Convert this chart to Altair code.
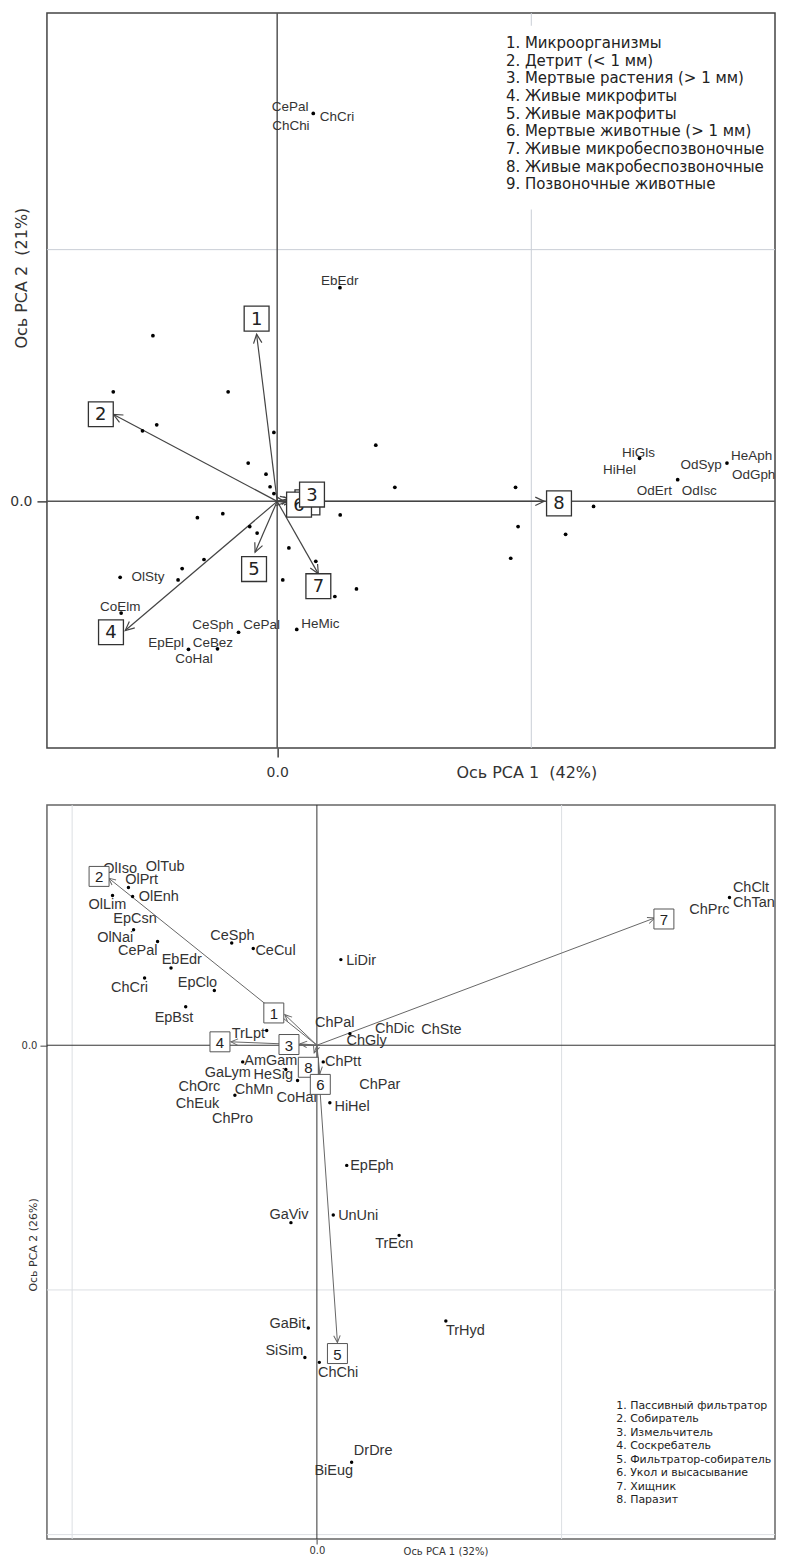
import math
import altair as alt
import pandas as pd

# ================= TOP PANEL (food resources, PCA 42% / 21%) =================
TOP_POINT_X = [0.142, 0.247, -0.489, -0.645, -0.193, -0.474, -0.530, -0.013, -0.114, -0.044,
               -0.028, -0.013, 0.388, 0.463, -0.314, -0.214, 0.248, -0.108, -0.079, 0.046,
               -0.288, -0.374, 0.152, -0.390, -0.618, 0.022, 0.312, 0.227, -0.614, -0.152,
               0.077, -0.349, -0.235, 0.938, 0.948, 0.919, 1.135, 1.245, 1.426, 1.576,
               1.770]
TOP_POINT_Y = [1.541, 0.849, 0.658, 0.435, 0.435, 0.304, 0.280, 0.274, 0.152, 0.108,
               0.058, 0.031, 0.223, 0.056, -0.065, -0.049, -0.054, -0.100, -0.126, -0.185,
               -0.231, -0.267, -0.238, -0.312, -0.302, -0.312, -0.348, -0.378, -0.444, -0.520,
               -0.509, -0.588, -0.586, 0.056, -0.100, -0.226, -0.131, -0.020, 0.171, 0.086,
               0.152]
TOP_LABEL_TEXT = ["CePal", "ChChi", "ChCri", "EbEdr", "OlSty", "CoElm", "CeSph", "CePal",
                  "HeMic", "EpEpl", "CeBez", "CoHal", "HiGls", "HiHel", "OdSyp", "OdErt",
                  "OdIsc", "HeAph", "OdGph"]
TOP_LABEL_X = [0.051, 0.054, 0.235, 0.246, -0.508, -0.618, -0.253, -0.061,
               0.170, -0.437, -0.253, -0.327, 1.422, 1.347, 1.668, 1.484,
               1.661, 1.867, 1.875]
TOP_LABEL_Y = [1.567, 1.493, 1.528, 0.877, -0.302, -0.421, -0.491, -0.491,
               -0.488, -0.563, -0.563, -0.626, 0.194, 0.124, 0.144, 0.040,
               0.040, 0.181, 0.104]
TOP_VEC_ID = ["1", "2", "3", "4", "5", "6", "7", "8", "9"]
TOP_VEC_X = [-0.081, -0.644, 0.049, -0.598, -0.087, 0.033, 0.162, 1.051, 0.061]
TOP_VEC_Y = [0.664, 0.345, 0.012, -0.513, -0.202, -0.004, -0.288, 0.0, 0.004]
TOP_BOX_X = [-0.081, -0.694, 0.137, -0.654, -0.091, 0.086, 0.162, 1.109, 0.119]
TOP_BOX_Y = [0.726, 0.346, 0.027, -0.520, -0.269, -0.013, -0.337, -0.008, -0.004]
TOP_LEGEND = ["1. Микроорганизмы", "2. Детрит (< 1 мм)", "3. Мертвые растения (> 1 мм)",
              "4. Живые микрофиты", "5. Живые макрофиты", "6. Мертвые животные (> 1 мм)",
              "7. Живые микробеспозвоночные", "8. Живые макробеспозвоночные",
              "9. Позвоночные животные"]
TOP_GRID_X = [1.0]
TOP_GRID_Y = [1.0]

# ================= BOTTOM PANEL (feeding groups, PCA 32% / 26%) =================
BOT_POINT_X = [-0.770, -0.753, -0.835, -0.749, -0.651, -0.348, -0.260, 0.098, -0.596, -0.704,
               -0.419, -0.536, -0.205, 0.135, -0.303, 0.026, -0.127, -0.079, -0.335, 0.053,
               1.686, 0.122, -0.106, 0.067, 0.336, -0.035, -0.049, 0.010, 0.142, 0.527]
BOT_POINT_Y = [0.645, 0.608, 0.612, 0.472, 0.424, 0.418, 0.395, 0.350, 0.316, 0.275,
               0.224, 0.157, 0.060, 0.047, -0.068, -0.068, -0.099, -0.144, -0.204, -0.235,
               0.604, -0.491, -0.725, -0.694, -0.777, -1.156, -1.276, -1.296, -1.704, -1.127]
BOT_LABEL_TEXT = ["OlIso", "OlTub", "OlPrt", "OlEnh", "OlLim", "EpCsn", "OlNai", "CePal",
                  "CeSph", "CeCul", "LiDir", "EbEdr", "ChCri", "EpClo", "EpBst", "TrLpt",
                  "ChPal", "ChDic", "ChSte", "ChGly", "AmGam", "ChPtt", "GaLym", "HeSig",
                  "ChOrc", "ChMn", "CoHal", "ChEuk", "ChPro", "ChPar", "HiHel", "ChClt",
                  "ChTan", "ChPrc", "EpEph", "GaViv", "UnUni", "TrEcn", "GaBit", "SiSim",
                  "ChChi", "DrDre", "BiEug", "TrHyd"]
BOT_LABEL_X = [-0.804, -0.620, -0.716, -0.646, -0.856, -0.743, -0.824, -0.732,
               -0.345, -0.169, 0.181, -0.552, -0.766, -0.488, -0.584, -0.280,
               0.073, 0.318, 0.509, 0.203, -0.188, 0.107, -0.364, -0.178,
               -0.480, -0.257, -0.083, -0.488, -0.345, 0.257, 0.144, 1.774,
               1.786, 1.604, 0.225, -0.114, 0.169, 0.316, -0.120, -0.133,
               0.087, 0.230, 0.069, 0.607]
BOT_LABEL_Y = [0.720, 0.727, 0.676, 0.606, 0.574, 0.517, 0.438, 0.387,
               0.448, 0.384, 0.346, 0.350, 0.234, 0.255, 0.112, 0.047,
               0.091, 0.067, 0.061, 0.016, -0.065, -0.069, -0.113, -0.120,
               -0.171, -0.181, -0.215, -0.242, -0.300, -0.164, -0.253, 0.642,
               0.581, 0.551, -0.495, -0.694, -0.699, -0.813, -1.140, -1.251,
               -1.341, -1.657, -1.739, -1.167]
BOT_VEC_ID = ["1", "2", "3", "4", "5", "6", "7", "8"]
BOT_VEC_X = [-0.131, -0.851, -0.069, -0.351, 0.084, 0.012, 1.380, -0.011]
BOT_VEC_Y = [0.125, 0.683, 0.006, 0.014, -1.215, -0.117, 0.520, -0.031]
BOT_BOX_X = [-0.176, -0.890, -0.114, -0.396, 0.084, 0.014, 1.418, -0.035]
BOT_BOX_Y = [0.132, 0.690, 0.003, 0.014, -1.260, -0.160, 0.516, -0.090]
BOT_LEGEND = ["1. Пассивный фильтратор", "2. Собиратель", "3. Измельчитель",
              "4. Соскребатель", "5. Фильтратор-собиратель", "6. Укол и высасывание",
              "7. Хищник", "8. Паразит"]
BOT_GRID_X = [-1.0, 1.0]
BOT_GRID_Y = [-1.0, -2.0]

ARROW_PATH = "M -0.42 0.9 L 0 0 L 0.42 0.9"


def make_panel(c):
    w, h = c["width"], c["height"]
    xd, yd = c["xdom"], c["ydom"]
    sx = w / (xd[1] - xd[0])
    sy = h / (yd[1] - yd[0])
    xs = alt.Scale(domain=xd, nice=False, zero=False)
    ys = alt.Scale(domain=yd, nice=False, zero=False)
    xaxis = alt.Axis(values=[0], format=".1f", grid=False, domain=False,
                     tickSize=c["xtick"], tickColor=c["axcol"], tickWidth=c["tickw"],
                     labelFont="DejaVu Sans", labelFontSize=c["xlabsize"],
                     labelColor="#333", labelPadding=c["xlabpad"],
                     title=c["xtitle"], titleFont="DejaVu Sans",
                     titleFontSize=c["xtitlesize"], titleFontWeight="normal",
                     titleColor="#333", titleX=c["xtitlex"], titleY=c["xtitley"],
                     titleAlign="center", titleBaseline="middle")
    yaxis = alt.Axis(values=[0], format=".1f", grid=False, domain=False,
                     tickSize=c["ytick"], tickColor=c["axcol"], tickWidth=c["tickw"],
                     labelFont="DejaVu Sans", labelFontSize=c["ylabsize"],
                     labelColor="#333", labelPadding=c["ylabpad"],
                     title=c["ytitle"], titleFont="DejaVu Sans",
                     titleFontSize=c["ytitlesize"], titleFontWeight="normal",
                     titleColor="#333", titleX=c["ytitlex"], titleY=c["ytitley"],
                     titleAlign="center", titleBaseline="middle", titleAngle=270)

    def X(f):
        return alt.X(f, type="quantitative", scale=xs, axis=xaxis)

    def Y(f):
        return alt.Y(f, type="quantitative", scale=ys, axis=yaxis)

    pts = pd.DataFrame({"px": c["pt_x"], "py": c["pt_y"]})
    labs = pd.DataFrame({"t": c["lab_t"], "lx": c["lab_x"], "ly": c["lab_y"]})
    vec = pd.DataFrame({"id": c["vid"], "tx": c["vx"], "ty": c["vy"],
                        "bx": c["bx"], "by": c["by"]})
    vec["x0"] = 0.0
    vec["y0"] = 0.0
    vec["ang"] = [math.degrees(math.atan2(a * sx, b * sy)) % 360.0
                  for a, b in zip(vec["tx"], vec["ty"])]
    n = len(c["legend"])
    leg = pd.DataFrame({"t": c["legend"],
                        "gx": [c["leg_x"]] * n,
                        "gy": [c["leg_y0"] - i * c["leg_step"] for i in range(n)]})

    layers = [
        alt.Chart(pd.DataFrame({"g": c["grid_x"]})).mark_rule(
            color=c["gridcol"], strokeWidth=1).encode(x=X("g")),
        alt.Chart(pd.DataFrame({"g": c["grid_y"]})).mark_rule(
            color=c["gridcol"], strokeWidth=1).encode(y=Y("g")),
    ]
    if c.get("legbox"):
        lb = c["legbox"]
        layers.append(alt.Chart(pd.DataFrame({"a": [lb[0]], "b": [lb[1]], "c": [lb[2]], "d": [lb[3]]}))
                      .mark_rect(fill="white").encode(x=X("a"), x2="b", y=Y("c"), y2="d"))
    layers += [
        alt.Chart(pd.DataFrame({"z": [0.0]})).mark_rule(
            color=c["zerocol"], strokeWidth=c["zerow"]).encode(x=X("z")),
        alt.Chart(pd.DataFrame({"z": [0.0]})).mark_rule(
            color=c["zerocol"], strokeWidth=c["zerow"]).encode(y=Y("z")),
        alt.Chart(vec).mark_rule(color=c["arrcol"], strokeWidth=c["arrw"]).encode(
            x=X("x0"), y=Y("y0"), x2="tx", y2="ty"),
        alt.Chart(vec).mark_point(shape=ARROW_PATH, filled=False, stroke=c["arrcol"],
                                  strokeWidth=c["arrw"], size=c["headsize"], opacity=1).encode(
            x=X("tx"), y=Y("ty"), angle=alt.Angle("ang:Q", scale=None)),
        alt.Chart(pts).mark_circle(size=c["ptsize"], color="black", opacity=1).encode(
            x=X("px"), y=Y("py")),
        alt.Chart(labs).mark_text(font="Liberation Sans", fontSize=c["labsize"],
                                  color="#333", align="center", baseline="middle").encode(
            x=X("lx"), y=Y("ly"), text="t:N"),
    ]
    for vid in c["box_order"]:
        base = alt.Chart(vec).transform_filter(alt.datum.id == vid)
        layers.append(base.mark_square(size=c["boxsize"], filled=True, fill="white",
                                       stroke=c["boxcol"], strokeWidth=c["boxw"], opacity=1)
                      .encode(x=X("bx"), y=Y("by")))
        layers.append(base.mark_text(font=c["boxfont"], fontSize=c["boxfs"], color="#222",
                                     align="center", baseline="middle", dy=1)
                      .encode(x=X("bx"), y=Y("by"), text="id:N"))
    layers.append(alt.Chart(leg).mark_text(font="DejaVu Sans", fontSize=c["legsize"],
                                           color="#222", align="left", baseline="middle")
                  .encode(x=X("gx"), y=Y("gy"), text="t:N"))
    return alt.layer(*layers).properties(
        width=w, height=h,
        view=alt.ViewBackground(stroke=c["framecol"], strokeWidth=c["framew"]))


top = make_panel(dict(
    width=729, height=736, xdom=[-0.906, 1.959], ydom=[-0.980, 1.940],
    pt_x=TOP_POINT_X, pt_y=TOP_POINT_Y,
    lab_t=TOP_LABEL_TEXT, lab_x=TOP_LABEL_X, lab_y=TOP_LABEL_Y,
    vid=TOP_VEC_ID, vx=TOP_VEC_X, vy=TOP_VEC_Y, bx=TOP_BOX_X, by=TOP_BOX_Y,
    legend=TOP_LEGEND, leg_x=0.900, leg_y0=1.821, leg_step=0.0702,
    legbox=[0.88, 1.95, 1.159, 1.889],
    grid_x=TOP_GRID_X, grid_y=TOP_GRID_Y, gridcol="#c9ced6",
    zerocol="#555", zerow=1.5, arrcol="#444", arrw=1.2, headsize=400,
    ptsize=14, labsize=13.5, boxsize=620, boxcol="#333", boxw=1.3,
    boxfont="DejaVu Sans", boxfs=18, legsize=15,
    box_order=["1", "2", "4", "5", "7", "8", "9", "6", "3"],
    framecol="#444", framew=1.5, axcol="#444", tickw=1.5,
    xtick=9, xlabsize=14, xlabpad=8, xtitle="Ось PCA 1\u00a0 (42%)", xtitlesize=16,
    xtitlex=480, xtitley=24,
    ytick=10, ylabsize=14, ylabpad=5, ytitle="Ось PCA 2\u00a0 (21%)", ytitlesize=16,
    ytitlex=-25, ytitley=265,
))

bottom = make_panel(dict(
    width=729, height=735, xdom=[-1.103, 1.872], ydom=[-2.018, 0.982],
    pt_x=BOT_POINT_X, pt_y=BOT_POINT_Y,
    lab_t=BOT_LABEL_TEXT, lab_x=BOT_LABEL_X, lab_y=BOT_LABEL_Y,
    vid=BOT_VEC_ID, vx=BOT_VEC_X, vy=BOT_VEC_Y, bx=BOT_BOX_X, by=BOT_BOX_Y,
    legend=BOT_LEGEND, leg_x=1.223, leg_y0=-1.473, leg_step=0.0551,
    grid_x=BOT_GRID_X, grid_y=BOT_GRID_Y, gridcol="#dcdfe3",
    zerocol="#333", zerow=1, arrcol="#666", arrw=1, headsize=240,
    ptsize=12, labsize=14.5, boxsize=400, boxcol="#555", boxw=1,
    boxfont="Liberation Sans", boxfs=15, legsize=11,
    box_order=["1", "2", "3", "4", "5", "7", "8", "6"],
    framecol="#666", framew=1.5, axcol="#444", tickw=1,
    xtick=5, xlabsize=10, xlabpad=2, xtitle="Ось PCA 1 (32%)", xtitlesize=10,
    xtitlex=399, xtitley=13,
    ytick=7, ylabsize=10, ylabpad=3, ytitle="Ось PCA 2 (26%)", ytitlesize=11,
    ytitlex=-13, ytitley=440,
))

chart = alt.vconcat(top, bottom, spacing=22).properties(
    padding={"left": 0, "top": 2, "right": 0, "bottom": 0})

chart.save("out.html", embed_options={"renderer": "svg", "actions": False})
